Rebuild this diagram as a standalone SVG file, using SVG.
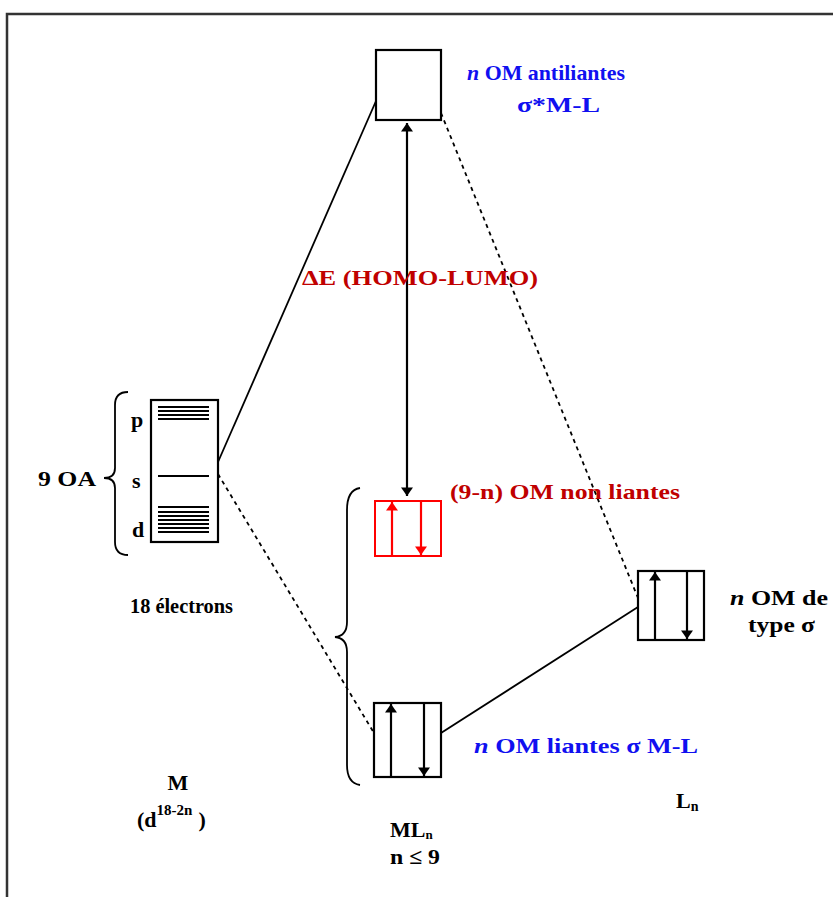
<svg xmlns="http://www.w3.org/2000/svg" width="833" height="897" viewBox="0 0 833 897">
<defs>
<style>
text{font-family:"Liberation Serif","Times New Roman",serif;font-weight:bold;font-size:22px;fill:#000}
.blue{fill:#1010f0}
.dred{fill:#c00000}
.box{fill:#fff;stroke:#000;stroke-width:2.2}
.rbox{fill:#fff;stroke:#ff0000;stroke-width:2}
.lvl{stroke:#000;stroke-width:1.8}
.ln{stroke:#000;stroke-width:1.8;fill:none}
.dash{stroke:#000;stroke-width:1.8;fill:none;stroke-dasharray:4 4}
.brace{stroke:#000;stroke-width:1.8;fill:none}
.spin{stroke:#000;stroke-width:2.2}
.rspin{stroke:#ff0000;stroke-width:2.2}
</style>
<marker id="ah" viewBox="0 0 10 14" refX="10" refY="7" markerWidth="14" markerHeight="12" markerUnits="userSpaceOnUse" orient="auto">
<path d="M0,0 L10,7 L0,14 Z" fill="#000"/>
</marker>
<marker id="ahs" viewBox="0 0 10 14" refX="10" refY="7" markerWidth="14" markerHeight="12" markerUnits="userSpaceOnUse" orient="auto-start-reverse">
<path d="M0,0 L10,7 L0,14 Z" fill="#000"/>
</marker>
<marker id="ahr" viewBox="0 0 10 14" refX="10" refY="7" markerWidth="14" markerHeight="12" markerUnits="userSpaceOnUse" orient="auto">
<path d="M0,0 L10,7 L0,14 Z" fill="#ff0000"/>
</marker>
</defs>
<rect width="833" height="897" fill="#fff"/>
<path d="M7,897 L7,14 L833,14" fill="none" stroke="#333" stroke-width="2.5"/>

<g id="connectors">
<line class="ln" x1="218" y1="462" x2="376" y2="101"/>
<line class="dash" x1="218" y1="474" x2="374" y2="733"/>
<line class="dash" x1="441" y1="113" x2="638" y2="598"/>
<line class="ln" x1="441" y1="733" x2="638" y2="607"/>
<line class="spin" x1="407" y1="123" x2="407" y2="496" marker-start="url(#ahs)" marker-end="url(#ahs)"/>
</g>

<g id="metal">
<path class="brace" d="M128,392 Q115,392 115,405 L115,468 Q115,478 104,478 Q115,478 115,488 L115,542 Q115,555 128,555"/>
<rect class="box" x="151" y="400" width="67" height="142"/>
<line class="lvl" x1="158" y1="407" x2="209" y2="407"/>
<line class="lvl" x1="158" y1="411" x2="209" y2="411"/>
<line class="lvl" x1="158" y1="415" x2="209" y2="415"/>
<line class="lvl" x1="158" y1="419" x2="209" y2="419"/>
<line class="lvl" x1="158" y1="476" x2="209" y2="476"/>
<line class="lvl" x1="158" y1="507" x2="209" y2="507"/>
<line class="lvl" x1="158" y1="512" x2="209" y2="512"/>
<line class="lvl" x1="158" y1="516" x2="209" y2="516"/>
<line class="lvl" x1="158" y1="520" x2="209" y2="520"/>
<line class="lvl" x1="158" y1="524" x2="209" y2="524"/>
<line class="lvl" x1="158" y1="528" x2="209" y2="528"/>
<line class="lvl" x1="158" y1="532" x2="209" y2="532"/>
<text x="131" y="427">p</text>
<text x="132" y="488">s</text>
<text x="132" y="537">d</text>
<text x="38" y="486" textLength="58" lengthAdjust="spacingAndGlyphs">9 OA</text>
<text x="130" y="613" textLength="103" lengthAdjust="spacingAndGlyphs">18 électrons</text>
<text x="178" y="790" text-anchor="middle">M</text>
<text x="137" y="827">(d<tspan font-size="15" dy="-12">18-2n</tspan><tspan dy="12" dx="6">)</tspan></text>
</g>

<g id="antibonding">
<rect class="box" x="376" y="50" width="65" height="70"/>
<text x="467" y="80" class="blue" font-size="22" textLength="158" lengthAdjust="spacingAndGlyphs"><tspan font-style="italic">n</tspan> OM antiliantes</text>
<text x="517" y="112" class="blue" font-size="23" textLength="83" lengthAdjust="spacingAndGlyphs">σ*M-L</text>
</g>

<text id="gap-label" x="302" y="285" class="dred" font-size="23" textLength="236" lengthAdjust="spacingAndGlyphs">ΔE (HOMO-LUMO)</text>

<g id="nonbonding">
<path class="brace" d="M360,488 Q347,490 347,510 L347,622 Q347,636 335,637 Q347,638 347,652 L347,765 Q347,783 360,785"/>
<rect class="rbox" x="375" y="501" width="66" height="55"/>
<line class="rspin" x1="392" y1="556" x2="392" y2="502" marker-end="url(#ahr)"/>
<line class="rspin" x1="421" y1="501" x2="421" y2="555" marker-end="url(#ahr)"/>
<text x="450" y="499" class="dred" font-size="22" textLength="230" lengthAdjust="spacingAndGlyphs">(9-n) OM non liantes</text>
</g>

<g id="bonding">
<rect class="box" x="374" y="703" width="67" height="74"/>
<line class="spin" x1="391" y1="777" x2="391" y2="704" marker-end="url(#ah)"/>
<line class="spin" x1="424" y1="703" x2="424" y2="776" marker-end="url(#ah)"/>
<text x="474" y="753" class="blue" font-size="22" textLength="224" lengthAdjust="spacingAndGlyphs"><tspan font-style="italic">n</tspan> OM liantes σ M-L</text>
<text x="390" y="837">ML<tspan font-size="13" dy="2">n</tspan></text>
<text x="390" y="864" textLength="50" lengthAdjust="spacingAndGlyphs">n ≤ 9</text>
</g>

<g id="ligand">
<rect class="box" x="638" y="571" width="66" height="69"/>
<line class="spin" x1="655" y1="640" x2="655" y2="572" marker-end="url(#ah)"/>
<line class="spin" x1="687" y1="571" x2="687" y2="639" marker-end="url(#ah)"/>
<text x="730" y="605" font-size="21" textLength="98" lengthAdjust="spacingAndGlyphs"><tspan font-style="italic">n</tspan> OM de</text>
<text x="748" y="632" textLength="67" lengthAdjust="spacingAndGlyphs">type σ</text>
<text x="676" y="808">L<tspan font-size="14" dy="3">n</tspan></text>
</g>
</svg>
